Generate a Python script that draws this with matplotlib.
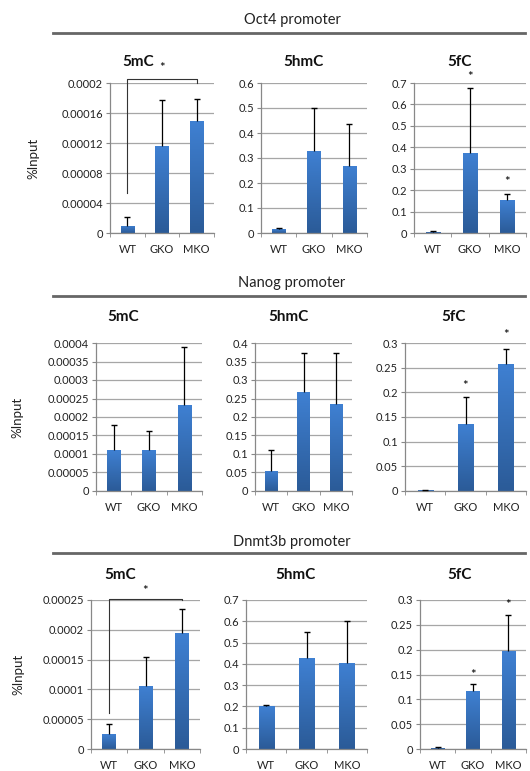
import numpy as np
import matplotlib
matplotlib.use("Agg")
import matplotlib.pyplot as plt
from matplotlib.colors import LinearSegmentedColormap

plt.rcParams['font.family'] = ['Lato', 'DejaVu Sans']

W, H = 530, 771

# --- dados ---
groups = ['WT', 'GKO', 'MKO']
promoters = ['Oct4 promoter', 'Nanog promoter', 'Dnmt3b promoter']
marks = ['5mC', '5hmC', '5fC']

# valores por promotor (linhas) e marca (colunas)
oct4_5mc = [0.00001, 0.000116, 0.000149]
oct4_5mc_err = [0.000012, 0.000061, 0.00003]
oct4_5hmc = [0.015, 0.33, 0.27]
oct4_5hmc_err = [0.005, 0.17, 0.165]
oct4_5fc = [0.005, 0.375, 0.152]
oct4_5fc_err = [0.004, 0.30, 0.031]

nanog_5mc = [0.00011, 0.00011, 0.000232]
nanog_5mc_err = [0.000068, 0.000052, 0.000158]
nanog_5hmc = [0.055, 0.267, 0.234]
nanog_5hmc_err = [0.057, 0.105, 0.14]
nanog_5fc = [0.002, 0.136, 0.258]
nanog_5fc_err = [0.001, 0.054, 0.029]

dnmt_5mc = [0.000025, 0.000106, 0.000195]
dnmt_5mc_err = [0.000017, 0.000048, 0.00004]
dnmt_5hmc = [0.2, 0.427, 0.405]
dnmt_5hmc_err = [0.007, 0.121, 0.195]
dnmt_5fc = [0.003, 0.116, 0.197]
dnmt_5fc_err = [0.002, 0.014, 0.073]

values = [[oct4_5mc, oct4_5hmc, oct4_5fc],
          [nanog_5mc, nanog_5hmc, nanog_5fc],
          [dnmt_5mc, dnmt_5hmc, dnmt_5fc]]
errors = [[oct4_5mc_err, oct4_5hmc_err, oct4_5fc_err],
          [nanog_5mc_err, nanog_5hmc_err, nanog_5fc_err],
          [dnmt_5mc_err, dnmt_5hmc_err, dnmt_5fc_err]]

# eixo y: (max, passo)
y_scales = [[(0.0002, 0.00004), (0.6, 0.1), (0.7, 0.1)],
            [(0.0004, 0.00005), (0.4, 0.05), (0.3, 0.05)],
            [(0.00025, 0.00005), (0.7, 0.1), (0.3, 0.05)]]

# asteriscos: (linha, coluna, indice do grupo, altura)
stars = [(0, 0, 1, 0.00022), (0, 2, 1, 0.728), (0, 2, 2, 0.238),
         (1, 2, 1, 0.213), (1, 2, 2, 0.316),
         (2, 0, 1, 0.000265), (2, 2, 1, 0.149), (2, 2, 2, 0.29)]
# colchetes WT-MKO: (linha, coluna, altura, perna WT, perna MKO)
brackets = [(0, 0, 0.000205, 0.000053, 0.0002),
            (2, 0, 0.000252, 0.00006, 0.00025)]

# --- layout em pixels ---
rows_y = [(83, 233), (343, 491), (600, 749)]
cols_x = [[(110, 214), (261, 367), (414, 526)],
          [(96, 202), (255, 352), (405, 526)],
          [(91, 200), (246, 367), (420, 526)]]
header_y = [20, 283, 542]
line_y = [33, 296, 553]
title_y = [62, 317, 575]
title_x = [[138, 303, 460], [123, 288, 453], [120, 295, 460]]
ylabel_x = [33, 17, 18]

bar_cmap = LinearSegmentedColormap.from_list('bar', ['#2b5b98', '#3f80d2'])
grad = np.linspace(0, 1, 64).reshape(-1, 1)


def px_rect(l, r, t, b):
    return [l / W, 1 - b / H, (r - l) / W, (b - t) / H]


def fmt(v):
    v = round(v, 8)
    if v == 0:
        return '0'
    return np.format_float_positional(v, trim='-')


fig = plt.figure(figsize=(W / 100, H / 100), dpi=100)
axes = {}

for i in range(3):
    t, b = rows_y[i]
    fig.text(292 / W, 1 - header_y[i] / H, promoters[i], ha='center', va='center',
             fontsize=10.5, color='#222222')
    fig.add_artist(plt.Line2D([53 / W, 525 / W], [1 - line_y[i] / H] * 2,
                              color='#666666', lw=2))
    fig.text(ylabel_x[i] / W, 1 - ((t + b) / 2) / H, '%Input', rotation=90,
             ha='center', va='center', fontsize=9.5, color='#222222')
    for j in range(3):
        l, r = cols_x[i][j]
        ax = fig.add_axes(px_rect(l, r, t, b))
        axes[(i, j)] = ax
        ymax, step = y_scales[i][j]
        x = np.arange(3)
        vals = values[i][j]
        errs = errors[i][j]

        ax.set_axisbelow(True)
        ticks = np.arange(0, ymax + step / 2, step)
        ax.set_yticks(ticks)
        ax.set_yticklabels([fmt(v) for v in ticks])
        ax.yaxis.grid(True, color='#a6a6a6', lw=0.9)

        bars = ax.bar(x, vals, width=0.38, color='none', edgecolor='none')
        for p in bars.patches:
            bx, by = p.get_x(), p.get_y()
            im = ax.imshow(grad, cmap=bar_cmap, aspect='auto', origin='lower',
                           extent=[bx, bx + p.get_width(), by, by + p.get_height()],
                           zorder=2)
            im.set_clip_path(p)
        ax.set_xlim(-0.5, 2.5)
        ax.set_ylim(0, ymax)

        tops = np.array(vals) + np.array(errs)
        ax.vlines(x, vals, tops, color='black', lw=0.9, zorder=3)
        ax.plot(x, tops, ls='none', marker='_', ms=5, mew=1, color='black', zorder=3)

        ax.set_xticks(x)
        ax.set_xticklabels(groups)
        ax.set_xticks([-0.5, 0.5, 1.5, 2.5], minor=True)
        ax.tick_params(axis='x', which='major', length=0, pad=8, labelsize=8,
                       labelcolor='#222222')
        ax.tick_params(axis='x', which='minor', length=3, color='#888888', direction='out')
        ax.tick_params(axis='y', length=3, color='#888888', labelsize=8,
                       labelcolor='#222222', pad=2)
        for s in ['top', 'right']:
            ax.spines[s].set_visible(False)
        for s in ['left', 'bottom']:
            ax.spines[s].set_color('#888888')
            ax.spines[s].set_linewidth(0.9)

        fig.text(title_x[i][j] / W, 1 - title_y[i] / H, marks[j], ha='center',
                 va='center', fontsize=11, fontweight='bold', color='#111111')

for (i, j, k, h) in stars:
    axes[(i, j)].text(k, h, '*', ha='center', va='center', fontsize=9.5, clip_on=False)

for (i, j, h, lw_, rw_) in brackets:
    axes[(i, j)].plot([0, 0, 2, 2], [lw_, h, h, rw_], color='#333333', lw=0.8,
                      clip_on=False, zorder=4)

fig.savefig('out.png', dpi=100)
